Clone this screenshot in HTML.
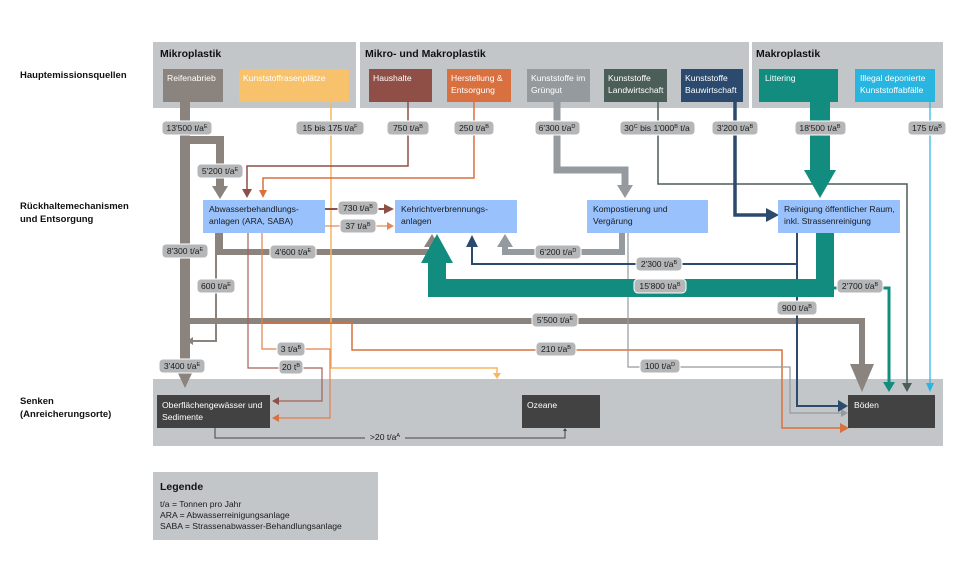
<!DOCTYPE html>
<html><head><meta charset="utf-8"><style>
body{margin:0;background:#fff}
svg{display:block;font-family:"Liberation Sans",sans-serif}
.h{font-weight:bold;font-size:10.5px;fill:#111}
.w{font-size:8.6px;fill:#fff}
.k{font-size:8.6px;fill:#1a1a1a}
.p rect{fill:#b4b6b8;stroke:#fff;stroke-width:1}
.p text{font-size:8.6px;fill:#1a1a1a;text-anchor:middle}
.l{font-size:9.5px;font-weight:bold;fill:#111}
</style></head><body>
<svg width="970" height="565" viewBox="0 0 970 565">
<rect x="153" y="42" width="203" height="66" fill="#c3c6c8"/>
<rect x="360" y="42" width="389" height="66" fill="#c3c6c8"/>
<rect x="752" y="42" width="191" height="66" fill="#c3c6c8"/>
<rect x="153" y="379" width="790" height="67" fill="#c3c6c8"/>
<rect x="153" y="472" width="225" height="68" fill="#c3c6c8"/>
<text class="h" x="160" y="57">Mikroplastik</text>
<text class="h" x="365" y="57">Mikro- und Makroplastik</text>
<text class="h" x="756" y="57">Makroplastik</text>
<text class="l" x="20" y="78">Hauptemissionsquellen</text>
<text class="l" x="20" y="209">Rückhaltemechanismen</text>
<text class="l" x="20" y="222">und Entsorgung</text>
<text class="l" x="20" y="404">Senken</text>
<text class="l" x="20" y="417">(Anreicherungsorte)</text>
<text class="h" x="160" y="490">Legende</text>
<text class="k" x="160" y="507">t/a = Tonnen pro Jahr</text>
<text class="k" x="160" y="518">ARA = Abwasserreinigungsanlage</text>
<text class="k" x="160" y="529">SABA = Strassenabwasser-Behandlungsanlage</text>

<rect x="163" y="69" width="60" height="33" fill="#8b837d"/><text class="w" x="167" y="81">Reifenabrieb</text>
<rect x="239" y="69" width="110" height="33" fill="#f7c26b"/><text class="w" x="243" y="81">Kunststoffrasenplätze</text>
<rect x="369" y="69" width="63" height="33" fill="#8f4f47"/><text class="w" x="373" y="81">Haushalte</text>
<rect x="447" y="69" width="64" height="33" fill="#d9703f"/><text class="w" x="451" y="81">Herstellung &amp;</text><text class="w" x="451" y="93">Entsorgung</text>
<rect x="527" y="69" width="63" height="33" fill="#959a9f"/><text class="w" x="531" y="81">Kunststoffe im</text><text class="w" x="531" y="93">Grüngut</text>
<rect x="604" y="69" width="63" height="33" fill="#4b5e58"/><text class="w" x="608" y="81">Kunststoffe</text><text class="w" x="608" y="93">Landwirtschaft</text>
<rect x="681" y="69" width="62" height="33" fill="#2c4a6e"/><text class="w" x="685" y="81">Kunststoffe</text><text class="w" x="685" y="93">Bauwirtschaft</text>
<rect x="759" y="69" width="79" height="33" fill="#128c7e"/><text class="w" x="765" y="81">Littering</text>
<rect x="855" y="69" width="80" height="33" fill="#28b5e0"/><text class="w" x="860" y="81">Illegal deponierte</text><text class="w" x="860" y="93">Kunststoffabfälle</text>

<g fill="none" stroke-linejoin="miter">
<polyline points="185,102 185,368" stroke="#8b837d" stroke-width="10"/>
<polygon points="175,367 195,367 185,388" fill="#8b837d" stroke="none"/>
<polyline points="185,140 220,140 220,186" stroke="#8b837d" stroke-width="8"/>
<polygon points="212,186 228,186 220,199" fill="#8b837d" stroke="none"/>
<polyline points="185,321 862,321 862,365" stroke="#8b837d" stroke-width="6"/>
<polygon points="850,364 874,364 862,392" fill="#8b837d" stroke="none"/>
<polyline points="216,233 216,341 192,341" stroke="#8b837d" stroke-width="2"/>
<polygon points="193,337 193,345 187,341" fill="#8b837d" stroke="none"/>
<polyline points="220,233 220,252 432,252 432,246" stroke="#8b837d" stroke-width="6"/>
<polygon points="424,247 440,247 432,234" fill="#8b837d" stroke="none"/>
<polyline points="331,102 331,368 497,368 497,374" stroke="#f7b660" stroke-width="1.5"/>
<polygon points="493,373 501,373 497,379" fill="#f7b660" stroke="none"/>
<polyline points="408,102 408,166 247,166 247,190" stroke="#8f4f47" stroke-width="1.5"/>
<polygon points="242,189 252,189 247,198" fill="#8f4f47" stroke="none"/>
<polyline points="474,102 474,178 263,178 263,191" stroke="#d9703f" stroke-width="1.5"/>
<polygon points="259,190 267,190 263,198" fill="#d9703f" stroke="none"/>
<polyline points="325,209 385,209" stroke="#8f4f47" stroke-width="2"/>
<polygon points="384,204 384,214 394,209" fill="#8f4f47" stroke="none"/>
<polyline points="325,226 388,226" stroke="#e08a5c" stroke-width="1.2"/>
<polygon points="387,222 387,230 394,226" fill="#e08a5c" stroke="none"/>
<polyline points="248,233 248,368 322,368 322,401 278,401" stroke="#a36058" stroke-width="1.2"/>
<polygon points="279,397 279,405 272,401" fill="#8f4f47" stroke="none"/>
<polyline points="262,233 262,349 330,349 330,418 278,418" stroke="#e08050" stroke-width="1.2"/>
<polygon points="279,414 279,422 272,418" fill="#d9703f" stroke="none"/>
<polyline points="262,323 352,323 352,350 782,350 782,428 842,428" stroke="#d9703f" stroke-width="1.5"/>
<polygon points="840,423 840,433 849,428" fill="#d9703f" stroke="none"/>
<polyline points="557,102 557,170 625,170 625,186" stroke="#959a9f" stroke-width="7"/>
<polygon points="617,185 633,185 625,198" fill="#959a9f" stroke="none"/>
<polyline points="622,233 622,252 505,252 505,246" stroke="#959a9f" stroke-width="6"/>
<polygon points="497,247 513,247 505,234" fill="#959a9f" stroke="none"/>
<polyline points="628,233 628,367 790,367 790,413 842,413" stroke="#959a9f" stroke-width="1.2"/>
<polygon points="841,409 841,417 848,413" fill="#959a9f" stroke="none"/>
<polyline points="658,102 658,184 907,184 907,384" stroke="#4b5e58" stroke-width="1.5"/>
<polygon points="902,383 912,383 907,392" fill="#4b5e58" stroke="none"/>
<polyline points="735,102 735,215 767,215" stroke="#2c4a6e" stroke-width="3.5"/>
<polygon points="766,208 766,222 779,215" fill="#2c4a6e" stroke="none"/>
<polyline points="797,233 797,264 472,264 472,246" stroke="#2c4a6e" stroke-width="2"/>
<polygon points="466,247 478,247 472,235" fill="#2c4a6e" stroke="none"/>
<polyline points="797,264 797,406 840,406" stroke="#2c4a6e" stroke-width="2"/>
<polygon points="838,400 838,412 848,406" fill="#2c4a6e" stroke="none"/>
<polyline points="820,102 820,172" stroke="#128c7e" stroke-width="20"/>
<polygon points="804,170 836,170 820,198" fill="#128c7e" stroke="none"/>
<polyline points="825,233 825,288 437,288 437,262" stroke="#128c7e" stroke-width="18"/>
<polygon points="421,263 453,263 437,234" fill="#128c7e" stroke="none"/>
<polyline points="834,288 889,288 889,383" stroke="#128c7e" stroke-width="3"/>
<polygon points="883,382 895,382 889,392" fill="#128c7e" stroke="none"/>
<polyline points="930,102 930,384" stroke="#28b5e0" stroke-width="1.2"/>
<polygon points="926,383 934,383 930,392" fill="#28b5e0" stroke="none"/>
<polyline points="215,428 215,438 565,438 565,430" stroke="#444" stroke-width="1"/>
<polygon points="563,431 567,431 565,428" fill="#444" stroke="none"/>
</g>

<rect x="203" y="200" width="122" height="33" fill="#99c2fd"/><text class="k" x="209" y="212">Abwasserbehandlungs-</text><text class="k" x="209" y="224">anlagen (ARA, SABA)</text>
<rect x="395" y="200" width="122" height="33" fill="#99c2fd"/><text class="k" x="401" y="212">Kehrichtverbrennungs-</text><text class="k" x="401" y="224">anlagen</text>
<rect x="587" y="200" width="121" height="33" fill="#99c2fd"/><text class="k" x="593" y="212">Kompostierung und</text><text class="k" x="593" y="224">Vergärung</text>
<rect x="778" y="200" width="122" height="33" fill="#99c2fd"/><text class="k" x="784" y="212">Reinigung öffentlicher Raum,</text><text class="k" x="784" y="224">inkl. Strassenreinigung</text>

<rect x="157" y="395" width="113" height="33" fill="#424242"/><text class="w" x="162" y="408">Oberflächengewässer und</text><text class="w" x="162" y="420">Sedimente</text>
<rect x="522" y="395" width="78" height="33" fill="#424242"/><text class="w" x="527" y="408">Ozeane</text>
<rect x="848" y="395" width="87" height="33" fill="#424242"/><text class="w" x="854" y="408">Böden</text>

<g class="p">
<rect x="162" y="121" width="50" height="14" rx="4"/><text x="187" y="131">13'500 t/a<tspan font-size="5.5" dy="-3">E</tspan></text>
<rect x="296" y="121" width="68" height="14" rx="4"/><text x="330" y="131">15 bis 175 t/a<tspan font-size="5.5" dy="-3">F</tspan></text>
<rect x="387" y="121" width="42" height="14" rx="4"/><text x="408" y="131">750 t/a<tspan font-size="5.5" dy="-3">B</tspan></text>
<rect x="454" y="121" width="40" height="14" rx="4"/><text x="474" y="131">250 t/a<tspan font-size="5.5" dy="-3">B</tspan></text>
<rect x="535" y="121" width="45" height="14" rx="4"/><text x="557" y="131">6'300 t/a<tspan font-size="5.5" dy="-3">D</tspan></text>
<rect x="620" y="121" width="75" height="14" rx="4"/><text x="657" y="131">30<tspan font-size="5.5" dy="-3">C</tspan><tspan dy="3"> bis 1'000</tspan><tspan font-size="5.5" dy="-3">B</tspan><tspan dy="3"> t/a</tspan></text>
<rect x="712" y="121" width="46" height="14" rx="4"/><text x="735" y="131">3'200 t/a<tspan font-size="5.5" dy="-3">B</tspan></text>
<rect x="795" y="121" width="51" height="14" rx="4"/><text x="820" y="131">18'500 t/a<tspan font-size="5.5" dy="-3">B</tspan></text>
<rect x="908" y="121" width="38" height="14" rx="4"/><text x="927" y="131">175 t/a<tspan font-size="5.5" dy="-3">B</tspan></text>
<rect x="197" y="164" width="46" height="14" rx="4"/><text x="220" y="174">5'200 t/a<tspan font-size="5.5" dy="-3">E</tspan></text>
<rect x="338" y="201" width="40" height="14" rx="4"/><text x="358" y="211">730 t/a<tspan font-size="5.5" dy="-3">B</tspan></text>
<rect x="340" y="219" width="36" height="14" rx="4"/><text x="358" y="229">37 t/a<tspan font-size="5.5" dy="-3">B</tspan></text>
<rect x="162" y="244" width="46" height="14" rx="4"/><text x="185" y="254">8'300 t/a<tspan font-size="5.5" dy="-3">E</tspan></text>
<rect x="270" y="245" width="46" height="14" rx="4"/><text x="293" y="255">4'600 t/a<tspan font-size="5.5" dy="-3">E</tspan></text>
<rect x="535" y="245" width="46" height="14" rx="4"/><text x="558" y="255">6'200 t/a<tspan font-size="5.5" dy="-3">D</tspan></text>
<rect x="636" y="257" width="46" height="14" rx="4"/><text x="659" y="267">2'300 t/a<tspan font-size="5.5" dy="-3">B</tspan></text>
<rect x="197" y="279" width="38" height="14" rx="4"/><text x="216" y="289">600 t/a<tspan font-size="5.5" dy="-3">E</tspan></text>
<rect x="634" y="279" width="52" height="14" rx="4"/><text x="660" y="289">15'800 t/a<tspan font-size="5.5" dy="-3">B</tspan></text>
<rect x="837" y="279" width="46" height="14" rx="4"/><text x="860" y="289">2'700 t/a<tspan font-size="5.5" dy="-3">B</tspan></text>
<rect x="777" y="301" width="40" height="14" rx="4"/><text x="797" y="311">900 t/a<tspan font-size="5.5" dy="-3">B</tspan></text>
<rect x="532" y="313" width="46" height="14" rx="4"/><text x="555" y="323">5'500 t/a<tspan font-size="5.5" dy="-3">E</tspan></text>
<rect x="277" y="342" width="28" height="14" rx="4"/><text x="291" y="352">3 t/a<tspan font-size="5.5" dy="-3">B</tspan></text>
<rect x="536" y="342" width="40" height="14" rx="4"/><text x="556" y="352">210 t/a<tspan font-size="5.5" dy="-3">B</tspan></text>
<rect x="279" y="360" width="24" height="14" rx="4"/><text x="291" y="370">20 t<tspan font-size="5.5" dy="-3">B</tspan></text>
<rect x="640" y="359" width="40" height="14" rx="4"/><text x="660" y="369">100 t/a<tspan font-size="5.5" dy="-3">D</tspan></text>
<rect x="159" y="359" width="46" height="14" rx="4"/><text x="182" y="369">3'400 t/a<tspan font-size="5.5" dy="-3">E</tspan></text>
</g>
<rect x="365" y="431" width="40" height="12" fill="#c3c6c8"/>
<text x="385" y="440" font-size="8.6" text-anchor="middle" fill="#1a1a1a">&gt;20 t/a<tspan font-size="5.5" dy="-3">A</tspan></text>
</svg>
</body></html>
